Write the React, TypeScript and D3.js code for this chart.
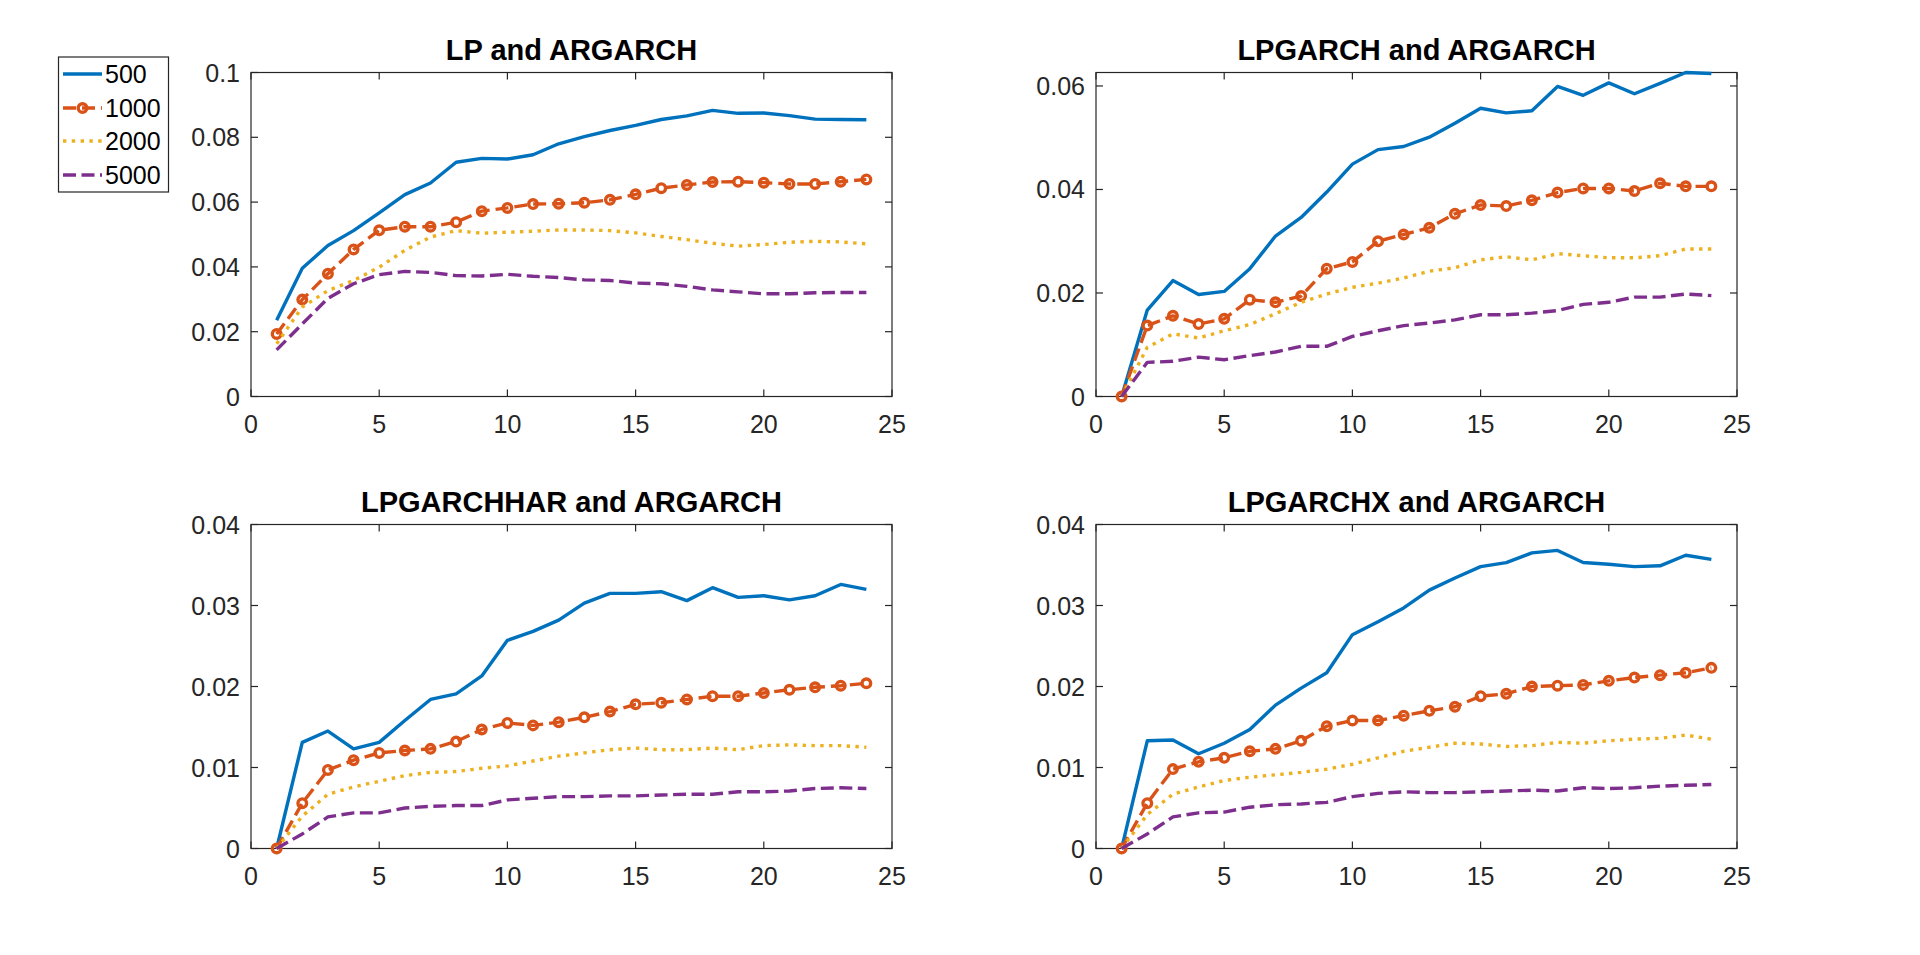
import React from 'react';
import * as d3 from 'd3';

// ---------- data ----------
const horizons = [1, 2, 3, 4, 5, 6, 7, 8, 9, 10, 11, 12, 13, 14, 15, 16, 17, 18, 19, 20, 21, 22, 23, 24];
const sampleSizes = ['500', '1000', '2000', '5000'];
const panelTitles = ['LP and ARGARCH', 'LPGARCH and ARGARCH', 'LPGARCHHAR and ARGARCH', 'LPGARCHX and ARGARCH'];
const xTicks = [0, 5, 10, 15, 20, 25];
const yTicksLP = [0, 0.02, 0.04, 0.06, 0.08, 0.1];
const yTicksLPG = [0, 0.02, 0.04, 0.06];
const yTicksHAR = [0, 0.01, 0.02, 0.03, 0.04];
const yTicksHX = [0, 0.01, 0.02, 0.03, 0.04];

// LP and ARGARCH
const lp500 = [0.0235, 0.0396, 0.0466, 0.0512, 0.0567, 0.0623, 0.0659, 0.0723, 0.0735, 0.0733, 0.0746, 0.078, 0.0802, 0.0821, 0.0837, 0.0855, 0.0866, 0.0883, 0.0874, 0.0875, 0.0867, 0.0856, 0.0855, 0.0854];
const lp1000 = [0.0193, 0.0299, 0.0379, 0.0454, 0.0513, 0.0524, 0.0524, 0.0538, 0.0572, 0.0582, 0.0594, 0.0595, 0.0598, 0.0607, 0.0624, 0.0643, 0.0653, 0.0662, 0.0663, 0.066, 0.0656, 0.0656, 0.0663, 0.067];
const lp2000 = [0.0163, 0.0276, 0.0327, 0.0358, 0.0399, 0.0451, 0.0492, 0.0512, 0.0504, 0.0507, 0.051, 0.0514, 0.0514, 0.0512, 0.0505, 0.0494, 0.0484, 0.0473, 0.0464, 0.0469, 0.0476, 0.0479, 0.0477, 0.0471];
const lp5000 = [0.0144, 0.0224, 0.0303, 0.0348, 0.0376, 0.0386, 0.0383, 0.0373, 0.0372, 0.0377, 0.0371, 0.0367, 0.036, 0.0358, 0.035, 0.0348, 0.034, 0.0329, 0.0323, 0.0317, 0.0317, 0.032, 0.0321, 0.0321];

// LPGARCH and ARGARCH
const lpg500 = [0, 0.0167, 0.0224, 0.0197, 0.0203, 0.0247, 0.031, 0.0346, 0.0395, 0.0449, 0.0477, 0.0483, 0.0501, 0.0528, 0.0557, 0.0548, 0.0552, 0.0599, 0.0582, 0.0606, 0.0585, 0.0605, 0.0626, 0.0624];
const lpg1000 = [0, 0.0137, 0.0156, 0.014, 0.015, 0.0187, 0.0182, 0.0194, 0.0247, 0.026, 0.03, 0.0313, 0.0326, 0.0353, 0.037, 0.0368, 0.0379, 0.0394, 0.0402, 0.0402, 0.0397, 0.0412, 0.0406, 0.0406];
const lpg2000 = [0, 0.0095, 0.0121, 0.0113, 0.0127, 0.0139, 0.016, 0.0182, 0.0198, 0.0211, 0.0219, 0.0229, 0.0242, 0.0249, 0.0264, 0.027, 0.0264, 0.0276, 0.0272, 0.0268, 0.0268, 0.0272, 0.0285, 0.0285];
const lpg5000 = [0, 0.0066, 0.0068, 0.0076, 0.0071, 0.0079, 0.0086, 0.0097, 0.0097, 0.0116, 0.0127, 0.0137, 0.0142, 0.0148, 0.0158, 0.0158, 0.0161, 0.0166, 0.0178, 0.0182, 0.0192, 0.0192, 0.0198, 0.0195];

// LPGARCHHAR and ARGARCH
const har500 = [0, 0.0131, 0.0145, 0.0123, 0.0131, 0.0158, 0.0184, 0.0191, 0.0213, 0.0257, 0.0268, 0.0282, 0.0303, 0.0315, 0.0315, 0.0317, 0.0306, 0.0322, 0.031, 0.0312, 0.0307, 0.0312, 0.0326, 0.032];
const har1000 = [0, 0.0056, 0.0097, 0.0109, 0.0118, 0.0121, 0.0123, 0.0132, 0.0147, 0.0155, 0.0152, 0.0156, 0.0162, 0.0169, 0.0178, 0.018, 0.0184, 0.0188, 0.0188, 0.0192, 0.0196, 0.0199, 0.0201, 0.0204];
const har2000 = [0, 0.004, 0.0067, 0.0076, 0.0083, 0.009, 0.0094, 0.0095, 0.0099, 0.0102, 0.0108, 0.0114, 0.0118, 0.0122, 0.0124, 0.0122, 0.0122, 0.0124, 0.0122, 0.0127, 0.0128, 0.0127, 0.0127, 0.0125];
const har5000 = [0, 0.0018, 0.0039, 0.0044, 0.0044, 0.005, 0.0052, 0.0053, 0.0053, 0.006, 0.0062, 0.0064, 0.0064, 0.0065, 0.0065, 0.0066, 0.0067, 0.0067, 0.007, 0.007, 0.0071, 0.0074, 0.0075, 0.0074];

// LPGARCHX and ARGARCH
const hx500 = [0, 0.0133, 0.0134, 0.0117, 0.013, 0.0147, 0.0177, 0.0198, 0.0217, 0.0264, 0.028, 0.0297, 0.0319, 0.0334, 0.0348, 0.0353, 0.0365, 0.0368, 0.0353, 0.0351, 0.0348, 0.0349, 0.0362, 0.0357];
const hx1000 = [0, 0.0056, 0.0098, 0.0107, 0.0112, 0.012, 0.0123, 0.0133, 0.0151, 0.0158, 0.0158, 0.0164, 0.017, 0.0175, 0.0188, 0.0191, 0.02, 0.0201, 0.0202, 0.0207, 0.0211, 0.0214, 0.0217, 0.0223];
const hx2000 = [0, 0.0042, 0.0067, 0.0076, 0.0084, 0.0088, 0.0091, 0.0094, 0.0098, 0.0104, 0.0112, 0.012, 0.0125, 0.013, 0.0129, 0.0126, 0.0127, 0.0131, 0.013, 0.0133, 0.0135, 0.0136, 0.014, 0.0135];
const hx5000 = [0, 0.0018, 0.0039, 0.0044, 0.0045, 0.0051, 0.0054, 0.0055, 0.0057, 0.0064, 0.0068, 0.007, 0.0069, 0.0069, 0.007, 0.0071, 0.0072, 0.0071, 0.0075, 0.0074, 0.0075, 0.0077, 0.0078, 0.0079];

// ---------- styles / layout ----------
const COLORS = ['#0072BD', '#D95319', '#EDB120', '#7E2F8E'];
const DASHES = ['none', '13,6', '3.4,5.4', '13,5.5'];
const LW = 3.4;
const AX = '#262626';
const FONT = '"Liberation Sans", Arial, Helvetica, sans-serif';
const TICK_FS = 25;
const TITLE_FS = 29;
const PW = 641;
const PH = 324;
const TICK_LEN = 7;
const MARKER_R = 4.3;

const panels = [
  { title: panelTitles[0], x: 251, y: 72.5, series: [lp500, lp1000, lp2000, lp5000], yTicks: yTicksLP, yMax: 0.1 },
  { title: panelTitles[1], x: 1096, y: 72.5, series: [lpg500, lpg1000, lpg2000, lpg5000], yTicks: yTicksLPG, yMax: null as number | null },
  { title: panelTitles[2], x: 251, y: 524.5, series: [har500, har1000, har2000, har5000], yTicks: yTicksHAR, yMax: 0.04 },
  { title: panelTitles[3], x: 1096, y: 524.5, series: [hx500, hx1000, hx2000, hx5000], yTicks: yTicksHX, yMax: 0.04 },
];

const fmt = (v: number) => String(+v.toFixed(4));

function Panel({ p }: { p: typeof panels[number] }) {
  const yMax = p.yMax ?? (d3.max(p.series.flat()) as number);
  const xs = d3.scaleLinear().domain([0, 25]).range([p.x, p.x + PW]);
  const ys = d3.scaleLinear().domain([0, yMax]).range([p.y + PH, p.y]);
  const line = d3.line<number>().x((_, i) => xs(horizons[i])).y((d) => ys(d));
  const top = p.y;
  const bottom = p.y + PH;
  const left = p.x;
  const right = p.x + PW;
  return (
    <g>
      <rect x={left} y={top} width={PW} height={PH} fill="#fff" stroke="none" />
      {xTicks.map((t) => (
        <g key={'xt' + t}>
          <line x1={xs(t)} x2={xs(t)} y1={bottom} y2={bottom - TICK_LEN} stroke={AX} strokeWidth={1.2} />
          <line x1={xs(t)} x2={xs(t)} y1={top} y2={top + TICK_LEN} stroke={AX} strokeWidth={1.2} />
          <text x={xs(t)} y={bottom + 27} textAnchor="middle" dominantBaseline="central" fontFamily={FONT} fontSize={TICK_FS} fill={AX}>
            {t}
          </text>
        </g>
      ))}
      {p.yTicks.map((t) => (
        <g key={'yt' + t}>
          <line x1={left} x2={left + TICK_LEN} y1={ys(t)} y2={ys(t)} stroke={AX} strokeWidth={1.2} />
          <line x1={right} x2={right - TICK_LEN} y1={ys(t)} y2={ys(t)} stroke={AX} strokeWidth={1.2} />
          <text x={left - 11} y={ys(t)} textAnchor="end" dominantBaseline="central" fontFamily={FONT} fontSize={TICK_FS} fill={AX}>
            {fmt(t)}
          </text>
        </g>
      ))}
      <rect x={left} y={top} width={PW} height={PH} fill="none" stroke={AX} strokeWidth={1.2} />
      {p.series.map((s, si) => (
        <g key={'s' + si}>
          <path d={line(s) || ''} fill="none" stroke={COLORS[si]} strokeWidth={LW} strokeDasharray={DASHES[si]} strokeLinejoin="round" strokeLinecap="butt" />
          {si === 1 &&
            s.map((v, i) => (
              <circle key={i} cx={xs(horizons[i])} cy={ys(v)} r={MARKER_R} fill="none" stroke={COLORS[si]} strokeWidth={LW} />
            ))}
        </g>
      ))}
      <text x={(left + right) / 2} y={top - 13} textAnchor="middle" fontFamily={FONT} fontSize={TITLE_FS} fontWeight="bold" fill="#000">
        {p.title}
      </text>
    </g>
  );
}

function Legend() {
  const lx = 58.5;
  const ly = 57;
  const w = 110;
  const h = 135;
  const rowY = [74, 108, 141, 175];
  return (
    <g>
      <rect x={lx} y={ly} width={w} height={h} fill="#fff" stroke={AX} strokeWidth={1.2} />
      {sampleSizes.map((lab, i) => (
        <g key={lab}>
          <line x1={63} x2={102} y1={rowY[i]} y2={rowY[i]} stroke={COLORS[i]} strokeWidth={LW} strokeDasharray={DASHES[i]} />
          {i === 1 && <circle cx={82.5} cy={rowY[i]} r={MARKER_R} fill="none" stroke={COLORS[i]} strokeWidth={LW} />}
          <text x={105} y={rowY[i]} dominantBaseline="central" fontFamily={FONT} fontSize={TICK_FS} fill="#000">
            {lab}
          </text>
        </g>
      ))}
    </g>
  );
}

export default function App() {
  return (
    <svg width={1920} height={955} style={{ position: 'absolute', left: 0, top: 0, background: '#fff' }}>
      <rect x={0} y={0} width={1920} height={955} fill="#fff" />
      {panels.map((p, i) => (
        <Panel key={i} p={p} />
      ))}
      <Legend />
    </svg>
  );
}
